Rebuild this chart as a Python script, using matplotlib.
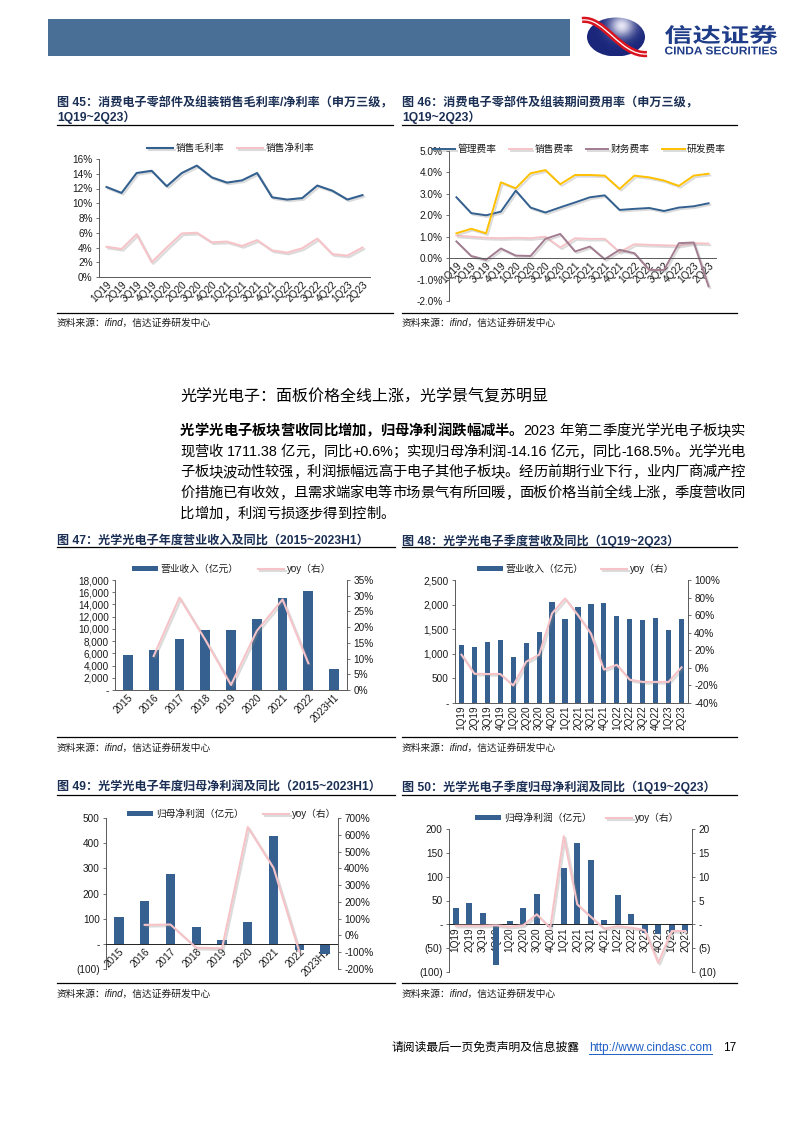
import re

import numpy as np
import matplotlib
matplotlib.use("Agg")
import matplotlib.pyplot as plt
import matplotlib.patheffects as pe
from matplotlib.lines import Line2D
from matplotlib.patches import Rectangle, Ellipse, PathPatch
from matplotlib.path import Path
from matplotlib.textpath import TextPath
from matplotlib.font_manager import FontProperties
from matplotlib.transforms import Affine2D
from matplotlib.ticker import FuncFormatter

# ---- data -------------------------------------------------------------
quarters = ["1Q19", "2Q19", "3Q19", "4Q19", "1Q20", "2Q20", "3Q20", "4Q20", "1Q21",
            "2Q21", "3Q21", "4Q21", "1Q22", "2Q22", "3Q22", "4Q22", "1Q23", "2Q23"]
years = ["2015", "2016", "2017", "2018", "2019", "2020", "2021", "2022", "2023H1"]

# fig 45: gross / net margin (%)
gross_margin = [12.2, 11.4, 14.1, 14.4, 12.3, 14.1, 15.1, 13.5, 12.8, 13.1, 14.1, 10.8,
                10.5, 10.7, 12.4, 11.7, 10.5, 11.1]
net_margin = [4.1, 3.8, 5.8, 2.0, 4.0, 5.9, 6.0, 4.7, 4.8, 4.2, 5.0, 3.6,
              3.3, 3.9, 5.2, 3.1, 2.9, 4.0]

# fig 46: expense ratios (%)
admin_rate = [2.84, 2.10, 2.00, 2.17, 3.15, 2.36, 2.13, 2.37, 2.60, 2.84, 2.93, 2.25,
              2.30, 2.34, 2.20, 2.36, 2.42, 2.56]
selling_rate = [1.05, 1.00, 0.95, 0.93, 0.95, 0.93, 1.00, 0.50, 0.93, 0.90, 0.90, 0.28,
                0.65, 0.62, 0.60, 0.58, 0.70, 0.68]
finance_rate = [0.78, 0.10, -0.08, 0.45, 0.12, 0.10, 0.90, 1.13, 0.31, 0.54, -0.05, 0.39,
                0.23, -0.55, -0.55, 0.70, 0.73, -1.32]
rd_rate = [1.16, 1.37, 1.16, 3.54, 3.26, 3.96, 4.11, 3.45, 3.88, 3.88, 3.85, 3.23,
           3.85, 3.77, 3.62, 3.37, 3.85, 3.94]

# fig 47: annual revenue (100m yuan) and yoy (%)
annual_revenue = [5800, 6500, 8300, 9800, 9900, 11700, 15000, 16250, 3400]
annual_rev_yoy = [np.nan, 10.8, 29.4, 16.0, 1.6, 18.8, 28.8, 8.5, np.nan]

# fig 48: quarterly revenue and yoy (%)
q_revenue = [1170, 1130, 1240, 1290, 940, 1220, 1440, 2060, 1710, 1950, 2010, 2040,
             1770, 1700, 1690, 1730, 1490, 1711]
q_rev_yoy = [15, -6.7, -7, -7, -20, 7, 15, 62, 79, 60, 39, -2, 3.5, -13.5, -16, -16, -16, 0.6]

# fig 49: annual net profit (100m yuan) and yoy (%)
annual_profit = [108, 169, 276, 67, 14, 88, 429, -25, -42]
annual_profit_yoy = [np.nan, 63, 65, -73, -77, 646, 402, -97, np.nan]

# fig 50: quarterly net profit and yoy (x)
q_profit = [34, 44, 23, -85, 7.5, 35, 64, -6, 118, 170, 135, 9, 61, 22, -18, -20, -17, -14]
q_profit_yoy = [-0.3, -0.3, -0.3, -0.2, -0.5, -0.2, 2.1, -0.7, 18.5, 4.2, 1.6, -0.9,
                -0.4, -0.7, -1.2, -8.1, -1.4, -1.4]

# ---- style ------------------------------------------------------------
plt.rcParams["font.family"] = ["Liberation Sans", "Noto Sans CJK SC"]
plt.rcParams["axes.unicode_minus"] = False

W, H = 794, 1123
HEADER = "#4A6F97"
NAVY = "#1F3C88"
BAR = "#36608F"
BLUE = "#33608F"
PINK = "#F6C4C8"
MAUVE = "#A27C90"
GOLD = "#FFC000"
TITLE = "#1B2F54"
AXC = "#595959"
TXT = "#1a1a1a"
SHADOW = [pe.SimpleLineShadow(offset=(1.2, -1.2), shadow_color="#888888", alpha=0.3), pe.Normal()]
SOURCE = "资料来源：ifind，信达证券研发中心"


def fx(x):
    return x / W


def fy(y):
    return 1 - y / H


def box(x0, y0, x1, y1):
    return [x0 / W, 1 - y1 / H, (x1 - x0) / W, (y1 - y0) / H]


fig = plt.figure(figsize=(W / 100, H / 100), dpi=100)


def hline(x0, x1, y, lw=0.9, color="black"):
    fig.add_artist(Line2D([fx(x0), fx(x1)], [fy(y), fy(y)], lw=lw, color=color))


def frame(x0, x1, titles, ty, rule_top, rule_bot, src_y):
    for i, t in enumerate(titles):
        fig.text(fx(x0), fy(ty + 14 * i), t, fontsize=8.7, fontweight="bold",
                 color=TITLE, ha="left", va="center")
    hline(x0, x1, rule_top)
    hline(x0, x1, rule_bot)
    fig.text(fx(x0), fy(src_y), SOURCE, fontsize=7, style="italic", color=TXT,
             ha="left", va="center")


def style(ax, left=True, right=False, bottom=True):
    ax.spines["top"].set_visible(False)
    ax.spines["left"].set_visible(left)
    ax.spines["right"].set_visible(right)
    ax.spines["bottom"].set_visible(bottom)
    for sp in ax.spines.values():
        sp.set_color(AXC)
        sp.set_linewidth(0.7)
    ax.tick_params(axis="both", labelsize=7.2, labelcolor=TXT, color=AXC)
    ax.tick_params(axis="x", length=0, pad=2)
    ax.tick_params(axis="y", length=2.5, width=0.6, pad=2)
    ax.patch.set_alpha(0)


def xlabels(ax, cats, rot):
    ax.set_xticks(np.arange(len(cats)))
    if rot == 45:
        ax.set_xticklabels(cats, rotation=45, ha="right", rotation_mode="anchor")
    else:
        ax.set_xticklabels(cats, rotation=90, ha="center", va="top")


def legend(handles, labels, x, y, hl, cs):
    fig.legend(handles, labels, loc="center left", bbox_to_anchor=(fx(x), fy(y)),
               ncol=len(handles), frameon=False, fontsize=7, handlelength=hl,
               handletextpad=0.25, columnspacing=cs, borderpad=0, borderaxespad=0,
               handleheight=0.45, labelcolor=TXT)


def thousands(v, pos):
    return "-" if v == 0 else f"{v:,.0f}"


def acct(v, pos):
    if v == 0:
        return "-"
    return f"({abs(v):,.0f})" if v < 0 else f"{v:,.0f}"


def pct0(v, pos):
    return f"{v:.0f}%"


def pct1(v, pos):
    return f"{v:.1f}%"


# ---- header -----------------------------------------------------------
fig.add_artist(Rectangle((fx(48), fy(56)), (570 - 48) / W, 37 / H,
                         transform=fig.transFigure, color=HEADER, lw=0))

lg = fig.add_axes(box(575, 8, 794, 64))
lg.set_xlim(575, 794)
lg.set_ylim(64, 8)
lg.axis("off")
ell = Ellipse((616, 37), 58, 39, facecolor="none", edgecolor="none")
lg.add_patch(ell)
gx, gy = np.meshgrid(np.linspace(0, 1, 80), np.linspace(0, 1, 60))
wgt = np.exp(-(((gx - 0.6) / 0.22) ** 2 + ((gy - 0.22) / 0.3) ** 2))
dark = np.array([0.10, 0.15, 0.48])
light = np.array([0.90, 0.90, 0.96])
img = dark[None, None, :] * (1 - wgt[..., None]) + light[None, None, :] * wgt[..., None]
im = lg.imshow(img, extent=(587, 645, 56.5, 17.5), interpolation="bilinear", aspect="auto")
im.set_clip_path(ell)
sw = Path([(582, 20), (604, 17), (621, 56), (647, 54)],
          [Path.MOVETO, Path.CURVE4, Path.CURVE4, Path.CURVE4])
lg.add_patch(PathPatch(sw, facecolor="none", edgecolor="#D9141E", lw=4.5, capstyle="butt"))
lg.add_patch(PathPatch(sw, facecolor="none", edgecolor="white", lw=0.9, capstyle="butt"))


def stretched_text(s, x0, x1, ybot, ytop, prop):
    tp = TextPath((0, 0), s, size=20, prop=prop)
    bb = tp.get_extents()
    tr = (Affine2D().translate(-bb.x0, -bb.y0)
          .scale((x1 - x0) / bb.width, -(ybot - ytop) / bb.height).translate(x0, ybot))
    lg.add_patch(PathPatch(tr.transform_path(tp), facecolor=NAVY, edgecolor="none"))


stretched_text("信达证券", 665, 777, 44, 25,
               FontProperties(family="Noto Sans CJK SC", weight="bold"))
stretched_text("CINDA SECURITIES", 665, 777, 54.5, 46.5,
               FontProperties(family="Liberation Sans", weight="bold"))

# ---- fig 45 -----------------------------------------------------------
frame(57, 393, ["图 45：消费电子零部件及组装销售毛利率/净利率（申万三级，", "1Q19~2Q23）"],
      103, 125, 313, 323)
ax = fig.add_axes(box(99, 159, 370, 277))
x = np.arange(len(quarters))
l1, = ax.plot(x, gross_margin, color=BLUE, lw=1.5, path_effects=SHADOW)
l2, = ax.plot(x, net_margin, color=PINK, lw=1.5, path_effects=SHADOW)
ax.set_xlim(-0.5, len(quarters) - 0.5)
ax.set_ylim(0, 16)
ax.set_yticks(np.arange(0, 17, 2))
ax.yaxis.set_major_formatter(FuncFormatter(pct0))
xlabels(ax, quarters, 45)
style(ax)
legend([l1, l2], ["销售毛利率", "销售净利率"], 147, 148, 2.7, 1.3)

# ---- fig 46 -----------------------------------------------------------
frame(402, 737, ["图 46：消费电子零部件及组装期间费用率（申万三级，", "1Q19~2Q23）"],
      103, 125, 313, 323)
ax = fig.add_axes(box(449, 151, 716, 301))
ax.spines["bottom"].set_position(("data", 0))
h = []
for vals, c in [(admin_rate, BLUE), (selling_rate, PINK), (finance_rate, MAUVE), (rd_rate, GOLD)]:
    ln, = ax.plot(x, vals, color=c, lw=1.4, path_effects=SHADOW)
    h.append(ln)
ax.set_xlim(-0.5, len(quarters) - 0.5)
ax.set_ylim(-2, 5)
ax.set_yticks(np.arange(-2, 6, 1))
ax.yaxis.set_major_formatter(FuncFormatter(pct1))
xlabels(ax, quarters, 45)
style(ax)
legend(h, ["管理费率", "销售费率", "财务费率", "研发费率"], 433, 149, 2.3, 1.3)

# ---- section text -----------------------------------------------------
fig.text(fx(180), fy(397), "光学光电子：面板价格全线上涨，光学景气复苏明显", fontsize=11.5,
         color="black", ha="left", va="center")

renderer = fig.canvas.get_renderer()
PSIZE = 10.3
PX = PSIZE * 100 / 72


def tok_width(t, w):
    if t == " ":
        return 0.278 * PX
    if len(t) == 1 and ord(t) > 127:
        return PX
    fp = FontProperties(family=["Liberation Sans", "Noto Sans CJK SC"], size=PSIZE, weight=w)
    a = renderer.get_text_width_height_descent("|" + t + "|", fp, ismath=False)[0]
    b = renderer.get_text_width_height_descent("||", fp, ismath=False)[0]
    return a - b


def para_line(segs, y, justify=True, x0=180, x1=745):
    toks = []
    for s, w in segs:
        for t in re.findall(r"[A-Za-z0-9.+\-%]+|.", s):
            toks.append((t, w))
    widths = [tok_width(t, w) for t, w in toks]
    gap = (x1 - x0 - sum(widths)) / (len(toks) - 1) if justify else 0
    xx = x0
    for (t, w), wd in zip(toks, widths):
        if t != " ":
            fig.text(fx(xx), fy(y + 5), t, fontsize=PSIZE, fontweight=w, color="black",
                     ha="left", va="baseline")
        xx += wd + gap


para_line([("光学光电子板块营收同比增加，归母净利润跌幅减半。", "bold"),
           ("2023 年第二季度光学光电子板块实", "normal")], 430)
para_line([("现营收 1711.38 亿元，同比+0.6%；实现归母净利润-14.16 亿元，同比-168.5%。光学光电",
            "normal")], 451)
para_line([("子板块波动性较强，利润振幅远高于电子其他子板块。经历前期行业下行，业内厂商减产控",
            "normal")], 471)
para_line([("价措施已有收效，且需求端家电等市场景气有所回暖，面板价格当前全线上涨，季度营收同",
            "normal")], 492)
para_line([("比增加，利润亏损逐步得到控制。", "normal")], 513, justify=False)


# ---- bar + yoy charts ---------------------------------------------------
def bar_yoy(rect, cats, bars, yoy, llim, lticks, lfmt, rlim, rticks, rfmt, rot, zero,
            bw, bar_label, leg_x, leg_y, cs):
    ax = fig.add_axes(box(*rect))
    if zero:
        ax.spines["bottom"].set_position(("data", 0))
    xs = np.arange(len(cats))
    b = ax.bar(xs, bars, width=bw, color=BAR, zorder=2)
    ax.set_xlim(-0.5, len(cats) - 0.5)
    ax.set_ylim(*llim)
    ax.set_yticks(lticks)
    ax.yaxis.set_major_formatter(FuncFormatter(lfmt))
    xlabels(ax, cats, rot)
    style(ax)
    if zero:
        ax.spines["bottom"].set_color("#222222")
    ax2 = ax.twinx()
    ln, = ax2.plot(xs, yoy, color=PINK, lw=1.5, path_effects=SHADOW)
    ax2.set_ylim(*rlim)
    ax2.set_yticks(rticks)
    ax2.yaxis.set_major_formatter(FuncFormatter(rfmt))
    style(ax2, left=False, right=True, bottom=False)
    legend([b, ln], [bar_label, "yoy（右）"], leg_x, leg_y, 2.7, cs)


frame(57, 395, ["图 47：光学光电子年度营业收入及同比（2015~2023H1）"], 541, 547, 737, 748)
bar_yoy((115, 580, 347, 690), years, annual_revenue, annual_rev_yoy,
        (0, 18000), np.arange(0, 18001, 2000), thousands,
        (0, 35), np.arange(0, 36, 5), pct0, 45, False, 0.38,
        "营业收入（亿元）", 132, 569, 2.0)

frame(402, 737, ["图 48：光学光电子季度营收及同比（1Q19~2Q23）"], 541, 547, 737, 748)
bar_yoy((455, 580, 688, 703), quarters, q_revenue, q_rev_yoy,
        (0, 2500), np.arange(0, 2501, 500), thousands,
        (-40, 100), np.arange(-40, 101, 20), pct0, 90, False, 0.4,
        "营业收入（亿元）", 477, 569, 1.8)

frame(57, 395, ["图 49：光学光电子年度归母净利润及同比（2015~2023H1）"], 787, 795, 983, 994)
bar_yoy((106, 818, 338, 969), years, annual_profit, annual_profit_yoy,
        (-100, 500), np.arange(-100, 501, 100), acct,
        (-200, 700), np.arange(-200, 701, 100), pct0, 45, True, 0.36,
        "归母净利润（亿元）", 127, 814, 2.0)

frame(402, 737, ["图 50：光学光电子季度归母净利润及同比（1Q19~2Q23）"], 787, 795, 983, 994)
bar_yoy((449, 829, 692, 972), quarters, q_profit, q_profit_yoy,
        (-100, 200), np.arange(-100, 201, 50), acct,
        (-10, 20), np.arange(-10, 21, 5), acct, 90, True, 0.45,
        "归母净利润（亿元）", 475, 818, 1.5)

# ---- footer -----------------------------------------------------------
fig.text(fx(392), fy(1048), "请阅读最后一页免责声明及信息披露", fontsize=8.5, color="black",
         ha="left", va="center")
fig.text(fx(589), fy(1048), "http://www.cindasc.com", fontsize=8.5, color="#1F5FC6",
         ha="left", va="center")
hline(589, 712, 1054, lw=0.7, color="#1F5FC6")
fig.text(fx(723), fy(1048), "17", fontsize=8.5, color="black", ha="left", va="center")

fig.savefig("out.png", dpi=100)
